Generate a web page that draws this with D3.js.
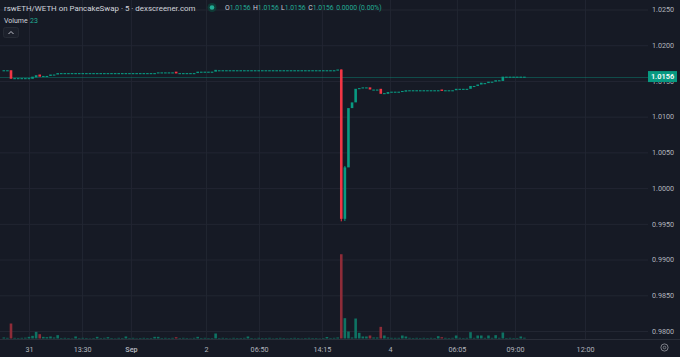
<!DOCTYPE html>
<html><head><meta charset="utf-8">
<script src="https://cdn.jsdelivr.net/npm/d3@7"></script>
<style>html,body{margin:0;padding:0;background:#161a25;overflow:hidden}</style>
</head><body><svg id="c" width="680" height="357"></svg>
<script>
// ---------- data (5-minute candles, index order) ----------
const opens = [
 1.0165,1.0165,1.0165,1.0154,1.0154,1.0154,1.0154,1.0154,1.0153,1.0155,1.0159,1.01555,1.0157,1.0157,1.0159,1.0159,
 1.0161,1.0161,1.0161,1.0161,1.0161,1.0161,1.0161,1.0161,1.0161,1.0161,1.0161,1.0161,1.0161,1.0161,1.0161,1.0161,1.0161,1.0161,1.0161,1.0161,1.0161,1.0161,1.0161,1.0161,1.0161,1.0161,1.0161,
 1.0161,1.0162,1.0162,1.0162,1.0162,1.0163,1.0161,1.0161,1.0161,1.0161,1.0161,1.0161,1.0163,1.0163,1.0163,1.0163,1.0163,
 1.0165,1.0165,1.0165,1.0165,1.0165,1.0165,1.0165,1.0165,1.0165,1.0165,1.0165,1.0165,1.0165,1.0165,1.0165,1.0165,1.0165,1.0165,1.0165,1.0165,1.0165,1.0165,1.0165,1.0165,1.0165,1.0165,1.0165,1.0165,1.0165,1.0165,1.0165,1.0165,1.0165,
 1.0165,1.0166,0.9957,1.0029,1.0112,1.0120,1.0139,1.0141,1.0141,1.0141,1.0138,1.0138,1.0139,1.0133,1.0132,1.0135,1.0135,1.0135,1.0135,1.0135,
 1.0137,1.0137,1.0137,1.0137,1.0137,1.0137,1.0137,1.0137,1.0137,1.0138,1.0137,1.0137,1.0137,1.0137,1.0139,1.0139,1.0139,
 1.0139,1.0143,1.0143,1.0145,1.0147,1.0147,1.0149,1.0149,1.0151,1.0150,1.0156,1.0156,1.0156,1.0156,1.01555,1.0156
];
const closes = [
 1.0165,1.0165,1.0153,1.0154,1.0154,1.0154,1.0154,1.0154,1.0156,1.0158,1.0156,1.0157,1.0157,1.0159,1.0159,1.0161,
 1.0161,1.0161,1.0161,1.0161,1.0161,1.0161,1.0161,1.0161,1.0161,1.0161,1.0161,1.0161,1.0161,1.0161,1.0161,1.0161,1.0161,1.0161,1.0161,1.0161,1.0161,1.0161,1.0161,1.0161,1.0161,1.0161,1.0161,
 1.0162,1.0162,1.0162,1.0162,1.0162,1.01605,1.0161,1.0161,1.0161,1.0161,1.0161,1.0163,1.0163,1.0163,1.0163,1.0163,1.01655,
 1.0165,1.0165,1.0165,1.0165,1.0165,1.0165,1.0165,1.0165,1.0165,1.0165,1.0165,1.0165,1.0165,1.0165,1.0165,1.0165,1.0165,1.0165,1.0165,1.0165,1.0165,1.0165,1.0165,1.0165,1.0165,1.0165,1.0165,1.0165,1.0165,1.0165,1.0165,1.0165,1.0165,
 1.0166,0.9957,1.0029,1.0112,1.0120,1.0139,1.0140,1.0141,1.0141,1.0138,1.0138,1.0138,1.0132,1.0133,1.01345,1.0135,1.0135,1.0135,1.0136,1.0137,
 1.0137,1.0137,1.0137,1.0137,1.0137,1.0137,1.0137,1.0137,1.0137,1.0136,1.0137,1.0137,1.0137,1.0139,1.0139,1.0139,1.0139,
 1.0143,1.0143,1.0145,1.01475,1.0147,1.0149,1.0149,1.0151,1.0151,1.0156,1.0156,1.0156,1.0156,1.0156,1.0156,1.0156
];
const volumes = [
 30,20,450,20,15,20,25,50,80,200,130,50,40,60,30,100,
 15,20,15,10,60,15,20,15,10,15,50,15,20,40,15,10,20,15,60,15,20,10,15,20,15,15,50,
 50,15,20,15,20,40,15,20,15,10,20,50,15,20,15,15,150,
 15,20,15,10,20,15,15,20,60,15,10,20,15,15,20,10,15,20,15,10,15,20,15,10,15,20,15,15,10,15,45,15,20,
 30,2530,610,210,30,600,170,60,60,90,30,30,350,90,30,20,20,20,90,60,
 20,15,20,15,20,15,20,15,70,40,20,15,20,90,20,15,20,
 190,20,90,90,20,90,20,100,20,180,15,20,15,15,60,23
];
// candles whose wicks reach beyond their bodies
const wickCandles = [94, 95];
const wickHighs = [1.0166, 1.0031];
const wickLows = [0.99535, 0.9954];

const priceTicks = [0.980,0.985,0.990,0.995,1.000,1.005,1.010,1.015,1.020,1.025];
const timeLabels = ["31","13:30","Sep","2","06:50","14:15","4","06:05","09:00","12:00"];
const timeBars = [7, 21.8, 35.4, 56.3, 71.1, 88.6, 107.6, 126.2, 142.4, 161.9];
const lastPrice = 1.0156;
const lastVolume = 23;

// ---------- drawing ----------
const UP="#089981", DOWN="#f23645";
const svg=d3.select("#c");
const plotR=648, axisY=339.5;
const FONT="Roboto, 'Noto Sans', sans-serif";

svg.append("rect").attr("width",680).attr("height",357).attr("fill","#161a25");

const x=d3.scaleLinear().domain([0,180]).range([3.82,650.02]);
const y=d3.scaleLinear().domain([0.98,1.025]).range([331,9.5]);
const yv=d3.scaleLinear().domain([0,2600]).range([338.5,251.9]);

// gridlines
const gy=svg.append("g").attr("transform",`translate(${plotR},0)`)
 .call(d3.axisLeft(y).tickValues(priceTicks).tickSize(plotR).tickFormat(""));
gy.select(".domain").remove();
gy.selectAll("line").attr("stroke","#222632").attr("stroke-width",1);
const gx=svg.append("g").attr("transform",`translate(0,${axisY})`)
 .call(d3.axisBottom(x).tickValues(timeBars).tickSize(-axisY).tickFormat(""));
gx.select(".domain").remove();
gx.selectAll("line").attr("stroke","#222632").attr("stroke-width",1);

const data=opens.map((o,i)=>{
  const k=wickCandles.indexOf(i);
  const c=closes[i];
  return {i,o,c,v:volumes[i],
    h:k>=0?wickHighs[k]:Math.max(o,c),
    l:k>=0?wickLows[k]:Math.min(o,c),
    up:c>=o};
});
const bw=2.6;
const clip=svg.append("defs").append("clipPath").attr("id","pc");
clip.append("rect").attr("x",0).attr("y",0).attr("width",plotR).attr("height",axisY);
const plot=svg.append("g").attr("clip-path","url(#pc)");

// volume
plot.append("g").selectAll("rect").data(data).join("rect")
 .attr("x",d=>x(d.i)-bw/2).attr("width",bw)
 .attr("y",d=>yv(d.v)).attr("height",d=>yv(0)-yv(d.v))
 .attr("fill",d=>d.up?"#0e7363":"#8e2c38");

// price line
plot.append("line").attr("x1",0).attr("x2",plotR)
 .attr("y1",Math.round(y(lastPrice))+0.5).attr("y2",Math.round(y(lastPrice))+0.5)
 .attr("stroke",UP).attr("stroke-opacity",0.4).attr("stroke-width",1);

// wicks
plot.append("g").selectAll("line").data(data.filter(d=>wickCandles.includes(d.i))).join("line")
 .attr("x1",d=>x(d.i)).attr("x2",d=>x(d.i))
 .attr("y1",d=>y(d.h)).attr("y2",d=>y(d.l))
 .attr("stroke",d=>d.up?UP:DOWN).attr("stroke-width",1);
// bodies
plot.append("g").selectAll("rect").data(data).join("rect")
 .attr("x",d=>x(d.i)-bw/2).attr("width",bw)
 .attr("y",d=>Math.min(y(d.o),y(d.c)))
 .attr("height",d=>Math.max(1.1,Math.abs(y(d.o)-y(d.c))))
 .attr("fill",d=>d.up?UP:DOWN);

// time axis separator
svg.append("line").attr("x1",0).attr("x2",680).attr("y1",axisY).attr("y2",axisY)
 .attr("stroke","#2a2e39").attr("stroke-width",1);

// price axis labels
const ay=svg.append("g").attr("transform","translate(652,0)")
 .call(d3.axisRight(y).tickValues(priceTicks).tickSize(0).tickPadding(0).tickFormat(d3.format(".4f")));
ay.select(".domain").remove();
ay.selectAll("text").attr("fill","#b2b5be").attr("font-size","7.2px").attr("font-family",FONT);

// last price label
const ly=y(lastPrice);
svg.append("rect").attr("x",648).attr("y",ly-5.6).attr("width",29).attr("height",11).attr("fill",UP);
svg.append("text").attr("x",662.5).attr("y",ly+2.6).attr("text-anchor","middle")
 .attr("fill","#ffffff").attr("font-size","7.4px").attr("font-weight","600").attr("font-family",FONT)
 .text(d3.format(".4f")(lastPrice));

// time axis labels
const ax=svg.append("g").attr("transform",`translate(0,${axisY})`)
 .call(d3.axisBottom(x).tickValues(timeBars).tickSize(0).tickPadding(7)
   .tickFormat((d,i)=>timeLabels[i]));
ax.select(".domain").remove();
ax.selectAll("text").attr("fill","#b2b5be").attr("font-size","7.2px").attr("font-family",FONT)
  .attr("font-weight",(d,i)=>timeLabels[i]==="Sep"?"600":"400");

// settings icon bottom-right
svg.append("circle").attr("cx",664.5).attr("cy",347.5).attr("r",3.6)
 .attr("fill","none").attr("stroke","#9598a1").attr("stroke-width",0.8);
svg.append("circle").attr("cx",664.5).attr("cy",347.5).attr("r",1.3)
 .attr("fill","none").attr("stroke","#9598a1").attr("stroke-width",0.7);

// header
svg.append("text").attr("x",4).attr("y",10.5).attr("fill","#d1d4dc")
 .attr("font-size","7.9px").attr("font-family",FONT)
 .text("rswETH/WETH on PancakeSwap · 5 · dexscreener.com");
svg.append("circle").attr("cx",212).attr("cy",7.5).attr("r",4.5).attr("fill","#0f3a36");
svg.append("circle").attr("cx",212).attr("cy",7.5).attr("r",2.3).attr("fill","#22ab94");
const f4=d3.format(".4f");
const ohlc=svg.append("text").attr("y",10.3).attr("font-size","6.8px").attr("font-family",FONT);
[["O",225],["H",253],["L",281],["C",308.3]].forEach(([k,px])=>{
  ohlc.append("tspan").attr("x",px).attr("fill","#d1d4dc").text(k);
  ohlc.append("tspan").attr("fill","#22ab94").text(f4(lastPrice));
});
ohlc.append("tspan").attr("fill","#22ab94").attr("dx",2.5).text("0.0000 (0.00%)");

svg.append("text").attr("x",4).attr("y",22.5).attr("fill","#d1d4dc")
 .attr("font-size","7px").attr("font-family",FONT).text("Volume");
svg.append("text").attr("x",30).attr("y",22.5).attr("fill","#22ab94")
 .attr("font-size","7px").attr("font-family",FONT).text(lastVolume);

// collapse button
svg.append("rect").attr("x",3.5).attr("y",27.5).attr("width",15).attr("height",10).attr("rx",2)
 .attr("fill","#1c202b").attr("stroke","#2a2e39").attr("stroke-width",0.8);
svg.append("path").attr("d","M8.5,34 L11,31.5 L13.5,34").attr("fill","none")
 .attr("stroke","#d1d4dc").attr("stroke-width",0.9);
</script>
</body></html>
